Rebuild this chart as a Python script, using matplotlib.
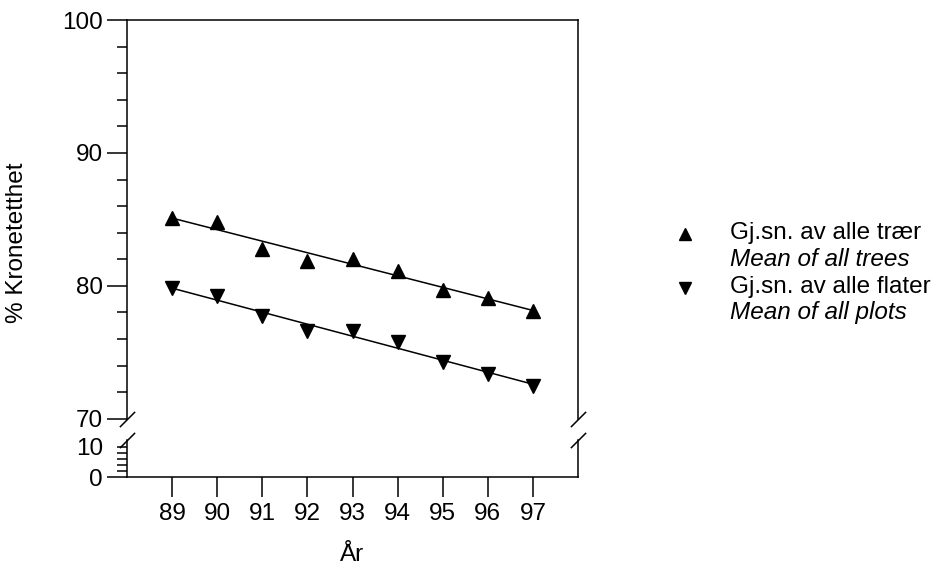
import matplotlib
matplotlib.use("Agg")
import matplotlib.pyplot as plt
import numpy as np

plt.rcParams['font.family'] = ['Liberation Sans', 'DejaVu Sans']
plt.rcParams['font.size'] = 17.5

years = [89, 90, 91, 92, 93, 94, 95, 96, 97]
trees = [85.1, 84.8, 82.8, 81.9, 82.0, 81.1, 79.7, 79.1, 78.1]
plots = [79.8, 79.2, 77.7, 76.6, 76.6, 75.8, 74.3, 73.4, 72.5]
lab_trees = ["Gj.sn. av alle trær", "Mean of all trees"]
lab_plots = ["Gj.sn. av alle flater", "Mean of all plots"]

W, H = 953, 578
fig = plt.figure(figsize=(W / 100, H / 100), dpi=100)

def box(x0, y0, x1, y1):
    # pixel box (top-left origin) -> figure fraction
    return [x0 / W, 1 - y1 / H, (x1 - x0) / W, (y1 - y0) / H]

ax = fig.add_axes(box(127, 20, 578, 418.75))
ax2 = fig.add_axes(box(127, 440, 578, 477))

lw = 1.1
for a in (ax, ax2):
    for s in a.spines.values():
        s.set_linewidth(lw)
    a.set_xlim(88, 98)
    a.tick_params(which='both', direction='out', width=lw, right=False, top=False)
    a.tick_params(which='major', length=14.4)
    a.tick_params(which='minor', length=7.2)

ax.spines['bottom'].set_visible(False)
ax2.spines['top'].set_visible(False)

# upper part
ax.set_ylim(70, 100)
ax.set_yticks([70, 80, 90, 100])
ax.set_yticks(np.arange(72, 100, 2), minor=True)
ax.tick_params(axis='y', which='major', pad=3)
ax.set_xticks([])

x = np.array(years)
for vals, m in ((trees, '^'), (plots, 'v')):
    k, b = np.polyfit(x, vals, 1)
    ax.plot(x, k * x + b, color='black', lw=1.1)
    ax.plot(x, vals, linestyle='none', marker=m, color='black', markersize=10.5)

# lower part
ax2.set_ylim(0, 12.3)
ax2.set_yticks([0])
ax2.set_yticks([2, 4, 6, 8, 10], minor=True)
ax2.set_yticklabels(['', '', '', '', '10'], minor=True)
ax2.tick_params(axis='y', which='major', pad=3)
ax2.tick_params(axis='y', which='minor', pad=10.2)
ax2.set_xticks(years)
ax2.set_xticklabels([str(y) for y in years])
ax2.tick_params(axis='x', which='major', pad=4.5)

# break marks
kw = dict(marker=[(-1, -1), (1, 1)], markersize=11, linestyle='none',
          color='black', mec='black', mew=lw, clip_on=False)
ax.plot([0, 1], [0, 0], transform=ax.transAxes, **kw)
ax2.plot([0, 1], [1, 1], transform=ax2.transAxes, **kw)

# axis titles
fig.text(17 / W, 1 - 243 / H, "% Kronetetthet", rotation=90,
         ha='center', va='center')
fig.text(352 / W, 1 - 555 / H, "År", ha='center', va='center')

# legend
for i, (labs, m) in enumerate(((lab_trees, '^'), (lab_plots, 'v'))):
    y0 = 233 + i * 54
    fig.lines.append(plt.Line2D([685 / W], [1 - (y0 + 1) / H], marker=m,
                                color='black', markersize=9, linestyle='none',
                                transform=fig.transFigure))
    fig.text(730 / W, 1 - y0 / H, labs[0], ha='left', va='center')
    fig.text(730 / W, 1 - (y0 + 26) / H, labs[1], ha='left', va='center',
             style='italic')

fig.savefig("out.png", dpi=100)
